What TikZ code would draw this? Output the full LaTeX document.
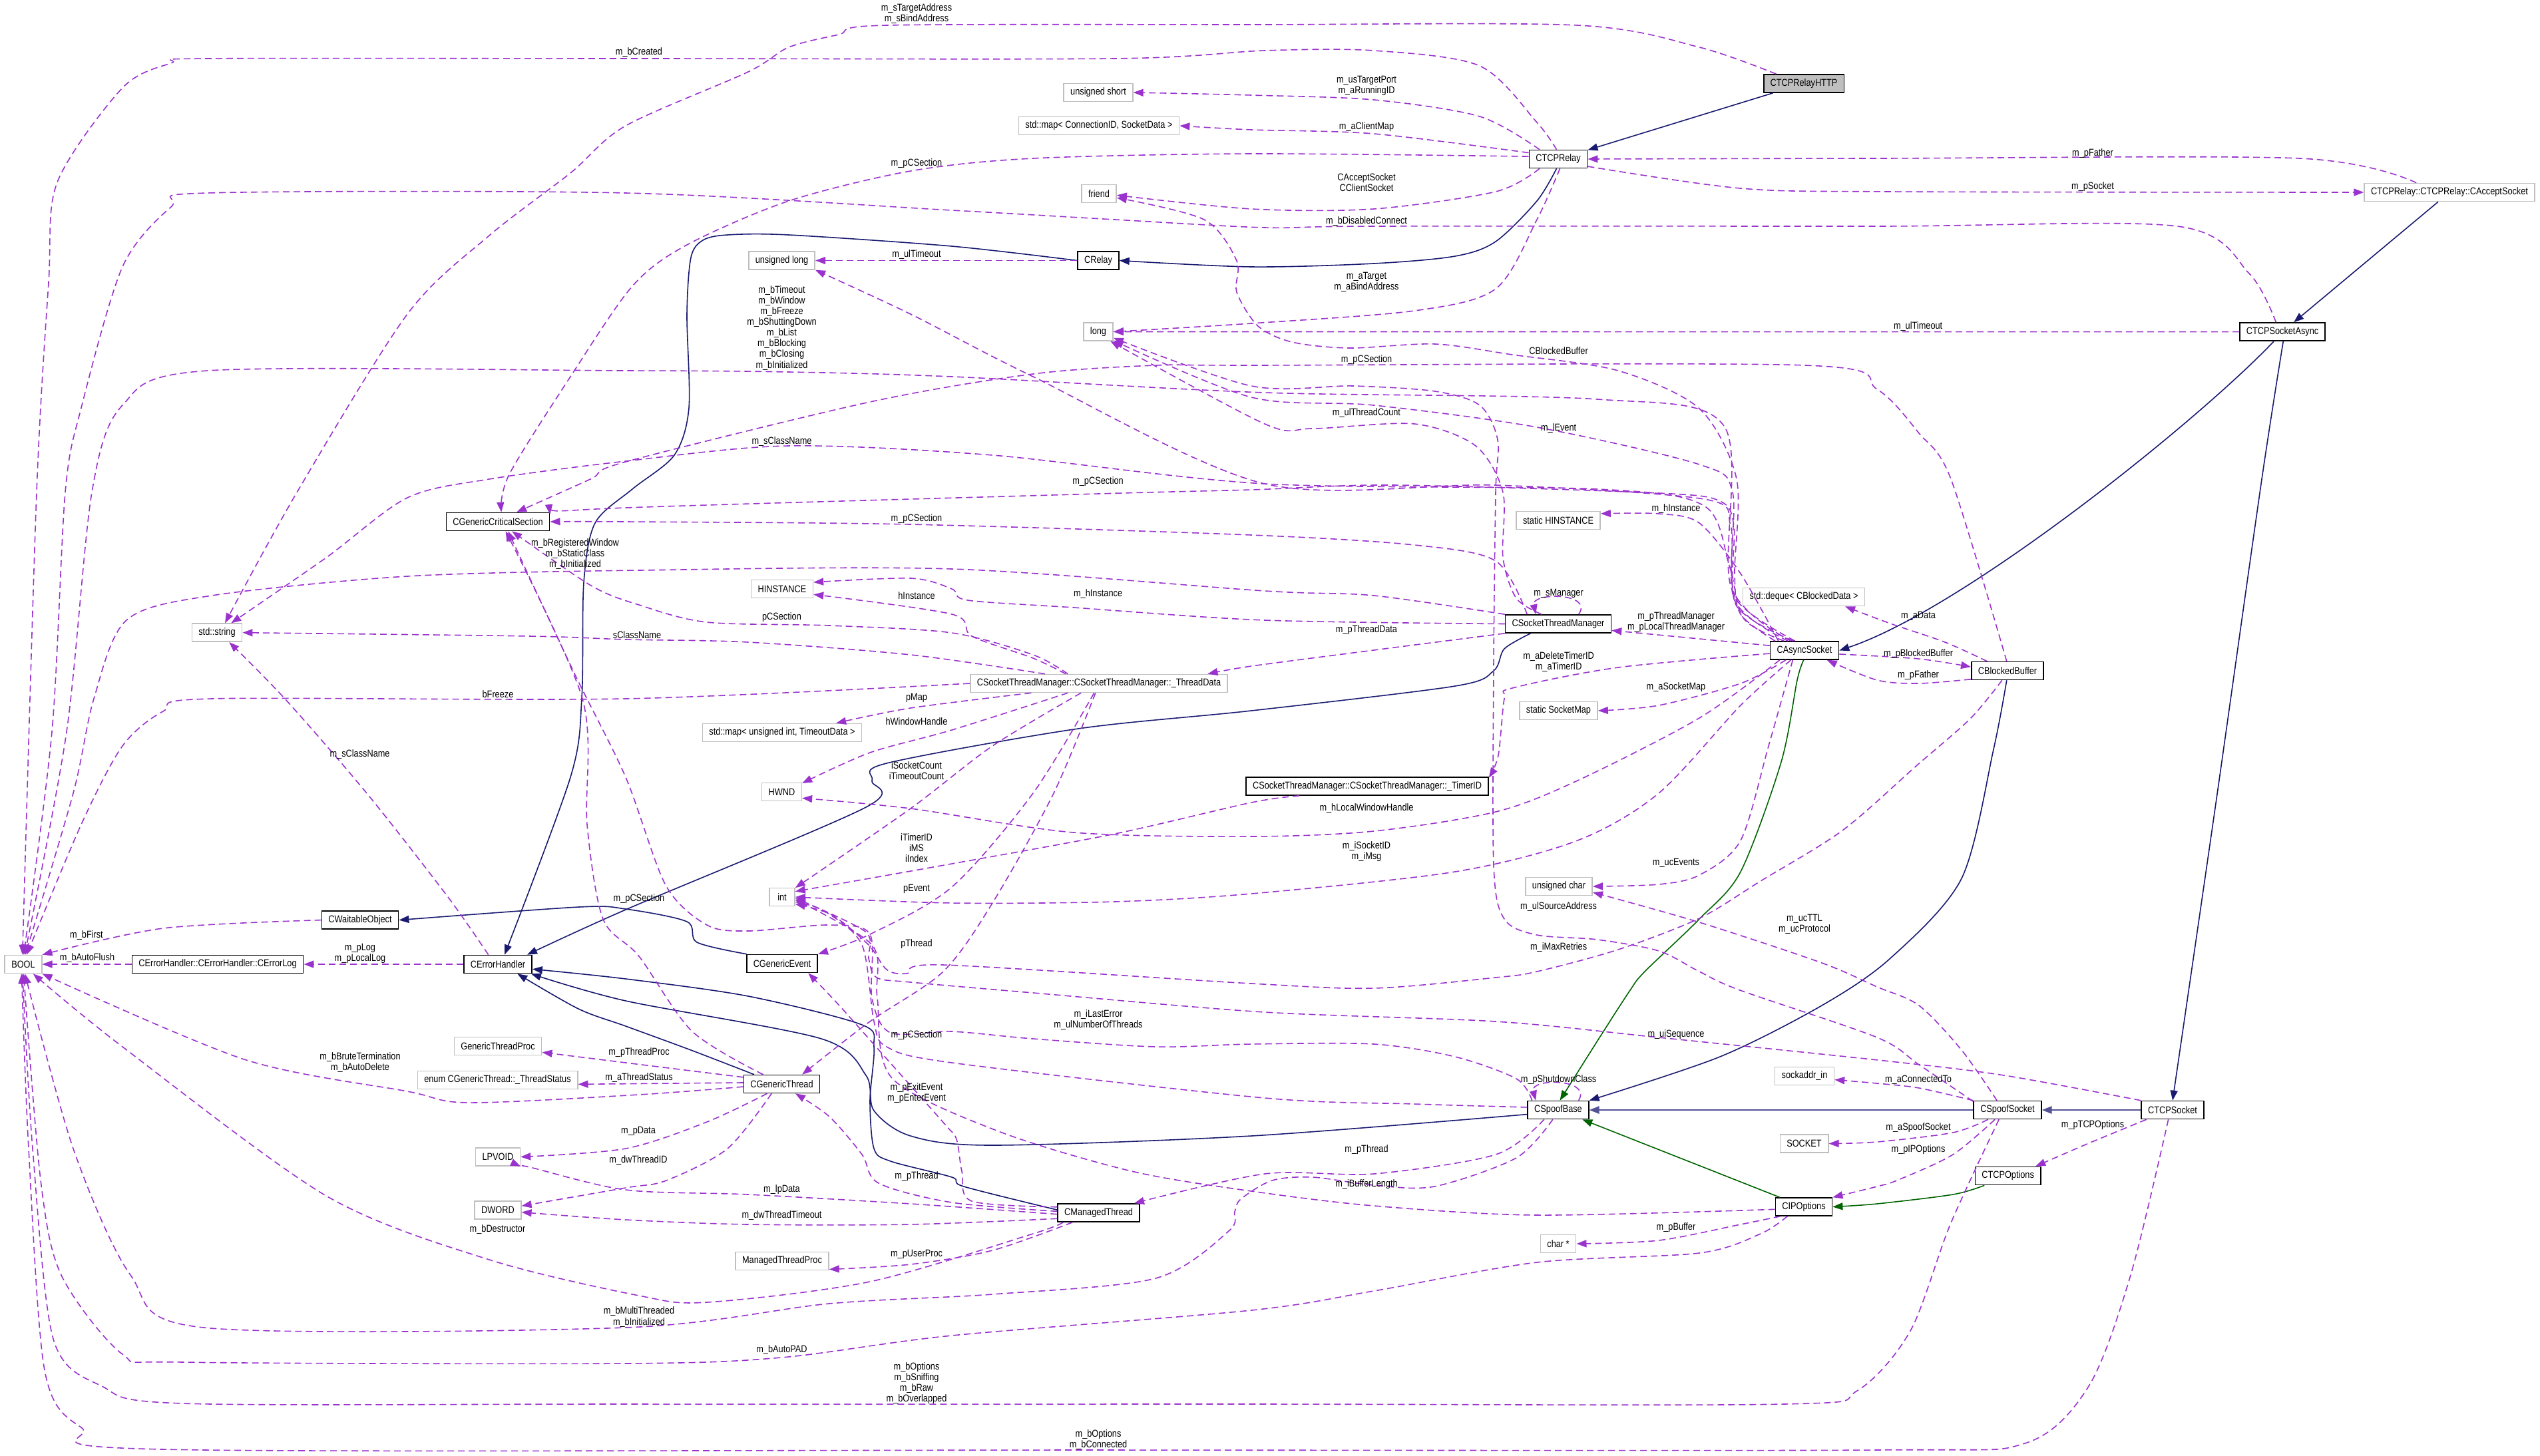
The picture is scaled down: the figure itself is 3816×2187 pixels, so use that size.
\documentclass[tikz,border=0pt]{standalone}
\usepackage{fontspec}
\setmainfont{Liberation Sans}[FakeStretch=0.85]
\usepackage{tikz}
\usetikzlibrary{arrows.meta}
\definecolor{usecol}{RGB}{154,50,205}
\definecolor{navy}{RGB}{25,25,112}
\definecolor{protgreen}{RGB}{0,100,0}
\definecolor{extgrey}{RGB}{191,191,191}
\newcommand\dxfont{\fontsize{15}{16.1}\selectfont}

\begin{document}
\begin{tikzpicture}[x=1pt,y=-1pt,
  cls/.style={draw=black,line width=1.6pt,minimum height=27pt,minimum width=38pt,inner xsep=10pt,inner ysep=0pt,font=\dxfont},
  ext/.style={cls,draw=extgrey},
  lbl/.style={font=\dxfont,align=center,inner sep=0pt},
  use/.style={draw=usecol,line width=1.6pt,dash pattern=on 10pt off 6pt,-{Triangle[length=15pt,width=11pt]}},
  inh/.style={draw=navy,line width=1.6pt,-{Triangle[length=15pt,width=11pt]}},
  prot/.style={inh,draw=protgreen}]
\useasboundingbox (0,0) rectangle (3816,2187);

\node[cls,fill=extgrey] (relayhttp) at (2710,125.5) {CTCPRelayHTTP};
\node[cls] (tcprelay) at (2341,239) {CTCPRelay};
\node[ext] (ushort) at (1650,139) {unsigned short};
\node[ext] (mapcid) at (1651,189) {std::map< ConnectionID, SocketData >};
\node[ext] (friendtype) at (1651,291) {friend};
\node[ext] (ulong) at (1174.5,391.5) {unsigned long};
\node[cls] (crelay) at (1650,391.5) {CRelay};
\node[ext] (longtype) at (1650,498.5) {long};
\node[ext] (acceptsock) at (3680,289) {CTCPRelay::CTCPRelay::CAcceptSocket};
\node[cls] (tcpasync) at (3429,498.6) {CTCPSocketAsync};
\node[cls] (gcs) at (748,784) {CGenericCriticalSection};
\node[ext] (stdstring) at (326,950.7) {std::string};
\node[cls] (waitable) at (541,1382.6) {CWaitableObject};
\node[ext] (booltype) at (35,1449) {BOOL};
\node[cls] (errlog) at (327,1449) {CErrorHandler::CErrorHandler::CErrorLog};
\node[cls] (errhandler) at (748,1449) {CErrorHandler};
\node[ext] (hinstance) at (1175,885) {HINSTANCE};
\node[ext] (threaddata) at (1651,1027) {CSocketThreadManager::CSocketThreadManager::\_ThreadData};
\node[ext] (mapuint) at (1175,1101) {std::map< unsigned int, TimeoutData >};
\node[ext] (hwnd) at (1174.5,1190) {HWND};
\node[ext] (inttype) at (1175,1348) {int};
\node[cls] (genevent) at (1175,1448) {CGenericEvent};
\node[ext] (shinst) at (2341,782) {static HINSTANCE};
\node[cls] (stm) at (2341,937.5) {CSocketThreadManager};
\node[ext] (deque) at (2710,897) {std::deque< CBlockedData >};
\node[cls] (asyncsock) at (2711,977.5) {CAsyncSocket};
\node[ext] (socketmap) at (2341.5,1068) {static SocketMap};
\node[cls] (timerid) at (2054,1181.5) {CSocketThreadManager::CSocketThreadManager::\_TimerID};
\node[ext] (uchar) at (2342,1332) {unsigned char};
\node[cls] (blockbuf) at (3016,1008) {CBlockedBuffer};
\node[ext] (gtproc) at (748,1572) {GenericThreadProc};
\node[ext] (enumts) at (747.5,1623) {enum CGenericThread::\_ThreadStatus};
\node[ext] (lpvoid) at (748,1738.5) {LPVOID};
\node[ext] (dword) at (748,1818.5) {DWORD};
\node[cls] (genthread) at (1174.5,1629) {CGenericThread};
\node[ext] (mtproc) at (1175,1895) {ManagedThreadProc};
\node[cls] (mthread) at (1650.6,1822.5) {CManagedThread};
\node[cls] (spoofbase) at (2341,1668) {CSpoofBase};
\node[ext] (sockaddr) at (2711,1617) {sockaddr\_in};
\node[ext] (sockettype) at (2710.5,1718.5) {SOCKET};
\node[cls] (ipopt) at (2710,1813.5) {CIPOptions};
\node[ext] (charp) at (2341,1869) {char *};
\node[cls] (spoofsock) at (3016,1668) {CSpoofSocket};
\node[cls] (tcpsocket) at (3264,1668) {CTCPSocket};
\node[cls] (tcpopts) at (3016.6,1767) {CTCPOptions};

\draw[inh] (relayhttp) -- (tcprelay);
\draw[inh] plot[smooth] coordinates {(tcprelay.-100) (2309,302) (2247,363) (2186,385) (2064,396) (1880,401) (crelay.east)};
\draw[inh] plot[smooth] coordinates {(crelay.west) (1430,370) (1185,353) (1093,353) (1056,361) (1038,387) (1032,472) (1035,613) (1013,684) (950,735) (894,786) (877,876) (874,1050) (857,1168) (errhandler.55)};
\draw[inh] plot[smooth] coordinates {(stm.199) (2260,975) (2244,1008) (2186,1031) (1880,1068) (1620,1095) (1332,1147) (1310,1173) (1301,1213) (940,1367) (errhandler.18)};
\draw[inh] plot[smooth] coordinates {(genthread.161) (1038,1578) (940,1542) (869,1516) (errhandler.-26)};
\draw[inh] plot[smooth] coordinates {(mthread.176) (1448,1783) (1430,1769) (1338,1745) (1313,1726) (1307,1654) (1313,1573) (1295,1540) (1124,1497) (940,1471) (errhandler.-8)};
\draw[inh] plot[smooth] coordinates {(spoofbase.-172) (1880,1707) (1491,1721) (1368,1707) (1313,1669) (1301,1616) (1234,1561) (940,1504) (errhandler.-16)};
\draw[inh] plot[smooth] coordinates {(genevent.165) (1047,1416) (1032,1385) (940,1366) (870,1363) (waitable.east)};
\draw[inh] (acceptsock) -- (tcpasync);
\draw[inh] (tcpasync.-132) .. controls (3300,635) and (2950,915) .. (asyncsock.east);
\draw[inh] plot[smooth] coordinates {(tcpasync.-85) (3398,720) (3330,1200) (tcpsocket.north)};
\draw[inh] plot[smooth] coordinates {(blockbuf.-95) (2995,1126) (2947,1320) (2840,1440) (2737,1511) (2584,1588) (spoofbase.north east)};
\draw[inh,draw=navy!75,line width=2.6pt] (spoofsock) -- (spoofbase);
\draw[inh,draw=navy!75,line width=2.6pt] (tcpsocket) -- (spoofsock);
\draw[prot] plot[smooth] coordinates {(asyncsock.-95) (2700,1022) (2676,1145) (2615,1310) (2553,1381) (2471,1460) (2449,1488) (2400,1564) (spoofbase.80)};
\draw[prot] (ipopt) -- (spoofbase);
\draw[prot] plot[smooth] coordinates {(tcpopts.-158) (2934,1795) (2820,1809) (ipopt.east)};

\draw[use] plot[smooth] coordinates {(relayhttp.161) (2553,71) (2370,38) (1880,37) (1332,38) (1260,52) (1185,71) (1124,108) (940,189) (857,260) (735,354) (612,472) (446,740) (stdstring.50)};
\draw[use] plot[smooth] coordinates {(tcprelay.100) (2309,184) (2223,99) (2064,76) (1900,76) (1675,88) (960,88) (312,88) (257,95) (184,132) (86,274) (73,425) (55,740) (booltype.95)};
\draw[use] plot[smooth] coordinates {(tcprelay.153) (2223,175) (2064,150) (1880,143) (ushort.east)};
\draw[use] plot[smooth] coordinates {(tcprelay.168) (2064,201) (1880,195) (mapcid.east)};
\draw[use] plot[smooth] coordinates {(tcprelay.175) (1880,231) (1552,238) (1368,257) (1185,302) (1032,368) (950,430) (857,566) (765,713) (gcs.70)};
\draw[use] plot[smooth] coordinates {(tcprelay.-153) (2247,288) (2064,314) (1880,314) (friendtype.-5)};
\draw[use] plot[smooth] coordinates {(tcpasync.124) (3379,411) (3271,340) (2820,340) (2064,340) (1900,342) (1675,330) (1430,316) (940,290) (312,290) (257,311) (184,401) (122,613) (98,740) (78,1100) (booltype.88)};
\draw[use] plot[smooth] coordinates {(tcprelay.-80) (2309,330) (2247,434) (2125,467) (1880,486) (longtype.east)};
\draw[use] (tcpasync.west) -- (longtype.east);
\draw[use] plot[smooth] coordinates {(acceptsock.164) (3455,238) (2820,238) (tcprelay.east)};
\draw[use] plot[smooth] coordinates {(tcprelay.-14) (2615,283) (2840,288) (acceptsock.west)};
\draw[use] (crelay.west) -- (ulong.east);
\draw[use] plot[smooth] coordinates {(asyncsock.162) (2615,923) (2606,862) (2609,720) (2553,614) (2431,557) (2272,533) (2156,517) (2027,523) (1941,514) (1890,490) (1858,439) (1858,392) (1809,330) (friendtype.-13)};
\draw[use] plot[smooth] coordinates {(blockbuf.95) (2931,720) (2883,651) (2820,585) (2713,549) (1880,549) (1736,549) (1552,562) (1307,604) (940,694) (887,720) (gcs.27)};
\draw[use] plot[smooth] coordinates {(stm.150) (2278,899) (2258,838) (2258,740) (2217,670) (2125,637) (1972,644) (1900,637) (longtype.-38)};
\draw[use] plot[smooth] coordinates {(asyncsock.150) (2605,900) (2603,740) (2553,698) (2309,642) (2064,609) (1880,597) (longtype.-30)};
\draw[use] plot[smooth] coordinates {(spoofsock.166) (2883,1600) (2820,1559) (2614,1488) (2553,1460) (2492,1429) (2400,1412) (2309,1405) (2260,1381) (2244,1300) (2244,1000) (2247,740) (2250,661) (2223,609) (2156,588) (2033,580) (1880,580) (longtype.-22)};
\draw[use] plot[smooth] coordinates {(asyncsock.155) (2620,930) (2598,850) (2560,760) (2400,735) (1900,727) (1491,684) (1185,670) (940,693) (735,720) (612,748) (490,838) (stdstring.34)};
\draw[use] plot[smooth] coordinates {(asyncsock.145) (2600,880) (2590,640) (2400,600) (1900,590) (1430,566) (1185,559) (940,557) (312,557) (184,609) (138,740) (100,1100) (booltype.82)};
\draw[use] plot[smooth] coordinates {(stm.north west) (2064,895) (1900,888) (1430,855) (960,857) (612,866) (318,895) (190,932) (141,1050) (110,1192) (booltype.78)};
\draw[use] plot[smooth] coordinates {(threaddata.west) (940,1050) (318,1050) (245,1069) (184,1121) (122,1239) (booltype.70)};
\draw[use] plot[smooth] coordinates {(waitable.west) (245,1395) (booltype.north east)};
\draw[use] (errlog.west) -- (booltype.east);
\draw[use] (errhandler.west) -- (errlog.east);
\draw[use] plot[smooth] coordinates {(errhandler.135) (673,1348) (551,1192) (428,1050) (stdstring.-38)};
\draw[use] plot[smooth] coordinates {(threaddata.170) (1368,984) (1124,965) (940,961) (796,956) (stdstring.east)};
\draw[use] plot[smooth] coordinates {(threaddata.163) (1552,984) (1430,951) (1246,940) (1062,935) (960,909) (888,880) (gcs.-34)};
\draw[use] plot[smooth] coordinates {(threaddata.164) (1552,989) (1460,956) (1430,923) (hinstance.-10)};
\draw[use] plot[smooth] coordinates {(stm.west) (1900,932) (1613,913) (1454,902) (1430,885) (1369,869) (hinstance.12)};
\draw[use] plot[smooth] coordinates {(stm.163) (2247,843) (2125,819) (1880,804) (1368,788) (940,784) (gcs.east)};
\draw[use] plot[smooth] coordinates {(asyncsock.140) (2608,909) (2605,791) (2584,753) (2492,741) (2094,729) (1880,736) (1650,742) (940,763) (gcs.8)};
\draw[use] (stm.25) .. controls (2395,890) and (2300,890) .. (stm.157);
\draw[use] (asyncsock.172) -- (stm.-7);
\draw[use] plot[smooth] coordinates {(asyncsock.185) (2431,1003) (2272,1034) (2260,1050) (2251,1135) (timerid.4.5)};
\draw[use] plot[smooth] coordinates {(asyncsock.-153) (2615,1027) (2492,1060) (socketmap.east)};
\draw[use] plot[smooth] coordinates {(asyncsock.-159) (2553,1079) (2370,1173) (2247,1220) (2064,1249) (1880,1257) (1613,1251) (1368,1215) (hwnd.-17)};
\draw[use] plot[smooth] coordinates {(asyncsock.-145) (2615,1060) (2492,1192) (2370,1263) (2186,1310) (1880,1343) (1675,1355) (1430,1357) (inttype.east)};
\draw[use] plot[smooth] coordinates {(asyncsock.-141) (2657,1121) (2615,1263) (2553,1315) (2492,1329) (uchar.east)};
\draw[use] plot[smooth] coordinates {(asyncsock.160) (2615,862) (2553,786) (2492,772) (shinst.9)};
\draw[use] plot[smooth] coordinates {(blockbuf.155) (2922,965) (2840,937) (deque.-13)};
\draw[use] plot[smooth] coordinates {(asyncsock.-6) (2882,990) (blockbuf.174)};
\draw[use] plot[smooth] coordinates {(blockbuf.-167) (2883,1027) (2820,1022) (asyncsock.-23)};
\draw[use] plot[smooth] coordinates {(stm.south west) (2064,977) (1880,1001) (threaddata.5)};
\draw[use] plot[smooth] coordinates {(threaddata.-172) (1368,1064) (mapuint.10)};
\draw[use] plot[smooth] coordinates {(threaddata.-163) (1430,1097) (1307,1131) (hwnd.23)};
\draw[use] plot[smooth] coordinates {(threaddata.-152) (1491,1121) (1368,1215) (inttype.35)};
\draw[use] plot[smooth] coordinates {(timerid.-172) (1880,1206) (1675,1253) (1430,1298) (inttype.23)};
\draw[use] plot[smooth] coordinates {(threaddata.-117) (1552,1192) (1430,1333) (1307,1404) (genevent.north east)};
\draw[use] plot[smooth] coordinates {(threaddata.-110) (1583,1192) (1491,1357) (1417,1460) (1307,1535) (genthread.25)};
\draw[use] plot[smooth] coordinates {(genthread.153) (1040,1550) (960,1437) (906,1381) (882,1239) (875,1050) (gcs.-51)};
\draw[use] plot[smooth] coordinates {(spoofbase.160) (2278,1621) (2186,1588) (2064,1569) (1880,1569) (1736,1573) (1552,1561) (1430,1550) (1338,1552) (1310,1500) (1307,1404) (1246,1390) (1124,1399) (1062,1390) (1000,1330) (940,1168) (863,1012) (gcs.-43)};
\draw[use] plot[smooth] coordinates {(spoofbase.175) (2125,1659) (1900,1650) (1430,1597) (1332,1573) (1313,1535) (1295,1420) (1240,1370) (inttype.-20)};
\draw[use] plot[smooth] coordinates {(tcpsocket.north west) (3011,1616) (2840,1595) (2492,1559) (2247,1535) (1900,1521) (1552,1492) (1368,1476) (1317,1469) (1305,1440) (1300,1400) (inttype.-5)};
\draw[use] plot[smooth] coordinates {(ipopt.-175) (2309,1826) (2064,1812) (1880,1790) (1700,1760) (1500,1700) (1340,1620) (1318,1500) (1310,1420) (inttype.-12)};
\draw[use] plot[smooth] coordinates {(spoofbase.-146) (2247,1735) (2064,1764) (1900,1764) (mthread.15)};
\draw[use] plot[smooth] coordinates {(spoofbase.-120) (2278,1740) (2155,1783) (2064,1781) (1972,1769) (1911,1774) (1864,1802) (1855,1821) (1846,1850) (1736,1921) (1491,1945) (1246,1959) (940,1995) (306,1995) (196,1916) (110,1726) (booltype.-80)};
\draw[use] (spoofbase.25) .. controls (2392,1620) and (2298,1620) .. (spoofbase.157);
\draw[use] plot[smooth] coordinates {(ipopt.-158) (2615,1840) (2492,1864) (charp.east)};
\draw[use] plot[smooth] coordinates {(ipopt.-150) (2645,1854) (2553,1883) (2309,1897) (2064,1940) (1880,1969) (1430,2007) (1174,2040) (940,2049) (275,2047) (184,2035) (92,1916) (61,1773) (booltype.-88)};
\draw[use] plot[smooth] coordinates {(spoofsock.-132) (2930,1840) (2870,2000) (2790,2090) (2680,2110) (1880,2110) (940,2110) (275,2109) (153,2083) (80,2012) (49,1726) (booltype.-95)};
\draw[use] plot[smooth] coordinates {(tcpsocket.-114) (3201,1916) (3138,2083) (3042,2169) (2820,2179) (1650,2179) (245,2178) (122,2145) (67,2059) (43,1726) (booltype.-100)};
\draw[use] plot[smooth] coordinates {(spoofsock.north west) (2883,1635) (2820,1628) (sockaddr.-7)};
\draw[use] plot[smooth] coordinates {(spoofsock.-154) (2934,1702) (2820,1716) (sockettype.east)};
\draw[use] plot[smooth] coordinates {(spoofsock.-143) (2934,1735) (2852,1773) (2820,1783) (ipopt.north east)};
\draw[use] plot[smooth] coordinates {(tcpsocket.-160) (3138,1718) (tcpopts.19)};
\draw[use] plot[smooth] coordinates {(spoofsock.138) (2947,1578) (2883,1511) (2820,1483) (2737,1447) (2553,1386) (uchar.-10)};
\draw[use] plot[smooth] coordinates {(mthread.172) (1460,1805) (1445,1760) (1437,1712) (1420,1690) (1340,1600) (1260,1510) (genevent.-20)};
\draw[use] plot[smooth] coordinates {(mthread.178) (1430,1807) (1320,1778) (1295,1735) (1246,1678) (genthread.-35)};
\draw[use] plot[smooth] coordinates {(mthread.-178) (1368,1809) (1124,1795) (940,1788) (796,1754) (lpvoid.south east)};
\draw[use] plot[smooth] coordinates {(mthread.-172) (1368,1840) (1124,1840) (940,1833) (dword.-5)};
\draw[use] plot[smooth] coordinates {(mthread.-160) (1491,1879) (1368,1900) (mtproc.-10)};
\draw[use] plot[smooth] coordinates {(mthread.-165) (1552,1854) (1307,1926) (1062,1957) (960,1947) (735,1893) (490,1797) (184,1573) (booltype.-44)};
\draw[use] plot[smooth] coordinates {(genthread.184) (960,1645) (704,1657) (612,1640) (367,1592) (booltype.south east)};
\draw[use] plot[smooth] coordinates {(genthread.170) (940,1597) (gtproc.-8)};
\draw[use] (genthread.178) -- (enumts.-3);
\draw[use] plot[smooth] coordinates {(genthread.-147) (1062,1686) (940,1726) (lpvoid.east)};
\draw[use] plot[smooth] coordinates {(genthread.-137) (1093,1726) (1001,1774) (940,1785) (dword.10)};
\draw[use] plot[smooth] coordinates {(blockbuf.-120) (2960,1080) (2880,1150) (2768,1248) (2645,1324) (2553,1380) (2431,1427) (2309,1460) (2247,1469) (2064,1485) (1880,1478) (1417,1450) (1362,1463) (1332,1457) (1305,1420) (1250,1375) (inttype.-28)};
\draw[use] plot[smooth] coordinates {(asyncsock.135) (2608,900) (2600,790) (2560,750) (2247,729) (1900,727) (1552,566) (1368,472) (ulong.south east)};

\node[lbl] (t1) at (1377,20.7) {m\_sTargetAddress\\m\_sBindAddress};
\node[lbl] (t2) at (960,79) {m\_bCreated};
\node[lbl] (t3) at (2053,129) {m\_usTargetPort\\m\_aRunningID};
\node[lbl] (t4) at (2053,190.6) {m\_aClientMap};
\node[lbl] (t5) at (3144,231) {m\_pFather};
\node[lbl] (t6) at (1377,246) {m\_pCSection};
\node[lbl] (t7) at (2053,274.3) {CAcceptSocket\\CClientSocket};
\node[lbl] (t8) at (3144,281) {m\_pSocket};
\node[lbl] (t9) at (2053,332.7) {m\_bDisabledConnect};
\node[lbl] (t10) at (1377,383) {m\_ulTimeout};
\node[lbl] (t11) at (2053,423.7) {m\_aTarget\\m\_aBindAddress};
\node[lbl] (t12) at (1174.5,492.7) {m\_bTimeout\\m\_bWindow\\m\_bFreeze\\m\_bShuttingDown\\m\_bList\\m\_bBlocking\\m\_bClosing\\m\_bInitialized};
\node[lbl] (t13) at (2881.6,490.8) {m\_ulTimeout};
\node[lbl] (t14) at (2341.6,527) {CBlockedBuffer};
\node[lbl] (t15) at (2053,540.8) {m\_pCSection};
\node[lbl] (t16) at (2053,620.6) {m\_ulThreadCount};
\node[lbl] (t17) at (2341.6,643.7) {m\_lEvent};
\node[lbl] (t18) at (1174.5,663.5) {m\_sClassName};
\node[lbl] (t19) at (1649.5,724) {m\_pCSection};
\node[lbl] (t20) at (2518,765) {m\_hInstance};
\node[lbl] (t21) at (1377,779.5) {m\_pCSection};
\node[lbl] (t22) at (864,832.8) {m\_bRegisteredWindow\\m\_bStaticClass\\m\_bInitialized};
\node[lbl] (t23) at (2341.6,891.8) {m\_sManager};
\node[lbl] (t24) at (1649.6,892.7) {m\_hInstance};
\node[lbl] (t25) at (1377,895.5) {hInstance};
\node[lbl] (t26) at (2882,926) {m\_aData};
\node[lbl] (t27) at (2518,934.7) {m\_pThreadManager\\m\_pLocalThreadManager};
\node[lbl] (t28) at (1174.5,927.6) {pCSection};
\node[lbl] (t29) at (2053,947) {m\_pThreadData};
\node[lbl] (t30) at (957,954.5) {sClassName};
\node[lbl] (t31) at (2882,982.4) {m\_pBlockedBuffer};
\node[lbl] (t32) at (2341.6,994.7) {m\_aDeleteTimerID\\m\_aTimerID};
\node[lbl] (t33) at (2882,1015) {m\_pFather};
\node[lbl] (t34) at (2518,1033) {m\_aSocketMap};
\node[lbl] (t35) at (748,1042.8) {bFreeze};
\node[lbl] (t36) at (1377,1049) {pMap};
\node[lbl] (t37) at (1377,1084) {hWindowHandle};
\node[lbl] (t38) at (540.6,1134) {m\_sClassName};
\node[lbl] (t39) at (1377,1158) {iSocketCount\\iTimeoutCount};
\node[lbl] (t40) at (2053,1214.6) {m\_hLocalWindowHandle};
\node[lbl] (t41) at (1377,1274) {iTimerID\\iMS\\iIndex};
\node[lbl] (t42) at (2053,1280) {m\_iSocketID\\m\_iMsg};
\node[lbl] (t43) at (2518,1296.7) {m\_ucEvents};
\node[lbl] (t44) at (1377,1336) {pEvent};
\node[lbl] (t45) at (960,1351) {m\_pCSection};
\node[lbl] (t46) at (2341.6,1362.7) {m\_ulSourceAddress};
\node[lbl] (t47) at (2711,1388.7) {m\_ucTTL\\m\_ucProtocol};
\node[lbl] (t48) at (130,1406) {m\_bFirst};
\node[lbl] (t49) at (1377,1419) {pThread};
\node[lbl] (t50) at (2341.6,1423.6) {m\_iMaxRetries};
\node[lbl] (t51) at (541,1432.6) {m\_pLog\\m\_pLocalLog};
\node[lbl] (t52) at (131,1440) {m\_bAutoFlush};
\node[lbl] (t53) at (1650,1532.6) {m\_iLastError\\m\_ulNumberOfThreads};
\node[lbl] (t54) at (2518,1555) {m\_uiSequence};
\node[lbl] (t55) at (1377,1556) {m\_pCSection};
\node[lbl] (t56) at (960,1582) {m\_pThreadProc};
\node[lbl] (t57) at (541,1596.7) {m\_bBruteTermination\\m\_bAutoDelete};
\node[lbl] (t58) at (960,1620) {m\_aThreadStatus};
\node[lbl] (t59) at (2341.6,1622.5) {m\_pShutdownClass};
\node[lbl] (t60) at (2882,1622.5) {m\_aConnectedTo};
\node[lbl] (t61) at (1377,1642.8) {m\_pExitEvent\\m\_pEnterEvent};
\node[lbl] (t62) at (3144,1690.6) {m\_pTCPOptions};
\node[lbl] (t63) at (2882,1695) {m\_aSpoofSocket};
\node[lbl] (t64) at (959,1700) {m\_pData};
\node[lbl] (t65) at (2882,1727.7) {m\_pIPOptions};
\node[lbl] (t66) at (2053,1728) {m\_pThread};
\node[lbl] (t67) at (959,1743.5) {m\_dwThreadID};
\node[lbl] (t68) at (1377,1768) {m\_pThread};
\node[lbl] (t69) at (2053,1780) {m\_iBufferLength};
\node[lbl] (t70) at (1174.5,1788) {m\_lpData};
\node[lbl] (t71) at (1174.5,1827) {m\_dwThreadTimeout};
\node[lbl] (t72) at (2518,1845) {m\_pBuffer};
\node[lbl] (t73) at (747.5,1848) {m\_bDestructor};
\node[lbl] (t74) at (1377,1884.5) {m\_pUserProc};
\node[lbl] (t75) at (960,1979) {m\_bMultiThreaded\\m\_bInitialized};
\node[lbl] (t76) at (1174.5,2029) {m\_bAutoPAD};
\node[lbl] (t77) at (1377,2078.7) {m\_bOptions\\m\_bSniffing\\m\_bRaw\\m\_bOverlapped};
\node[lbl] (t78) at (1650,2163.7) {m\_bOptions\\m\_bConnected};
\end{tikzpicture}
\end{document}
